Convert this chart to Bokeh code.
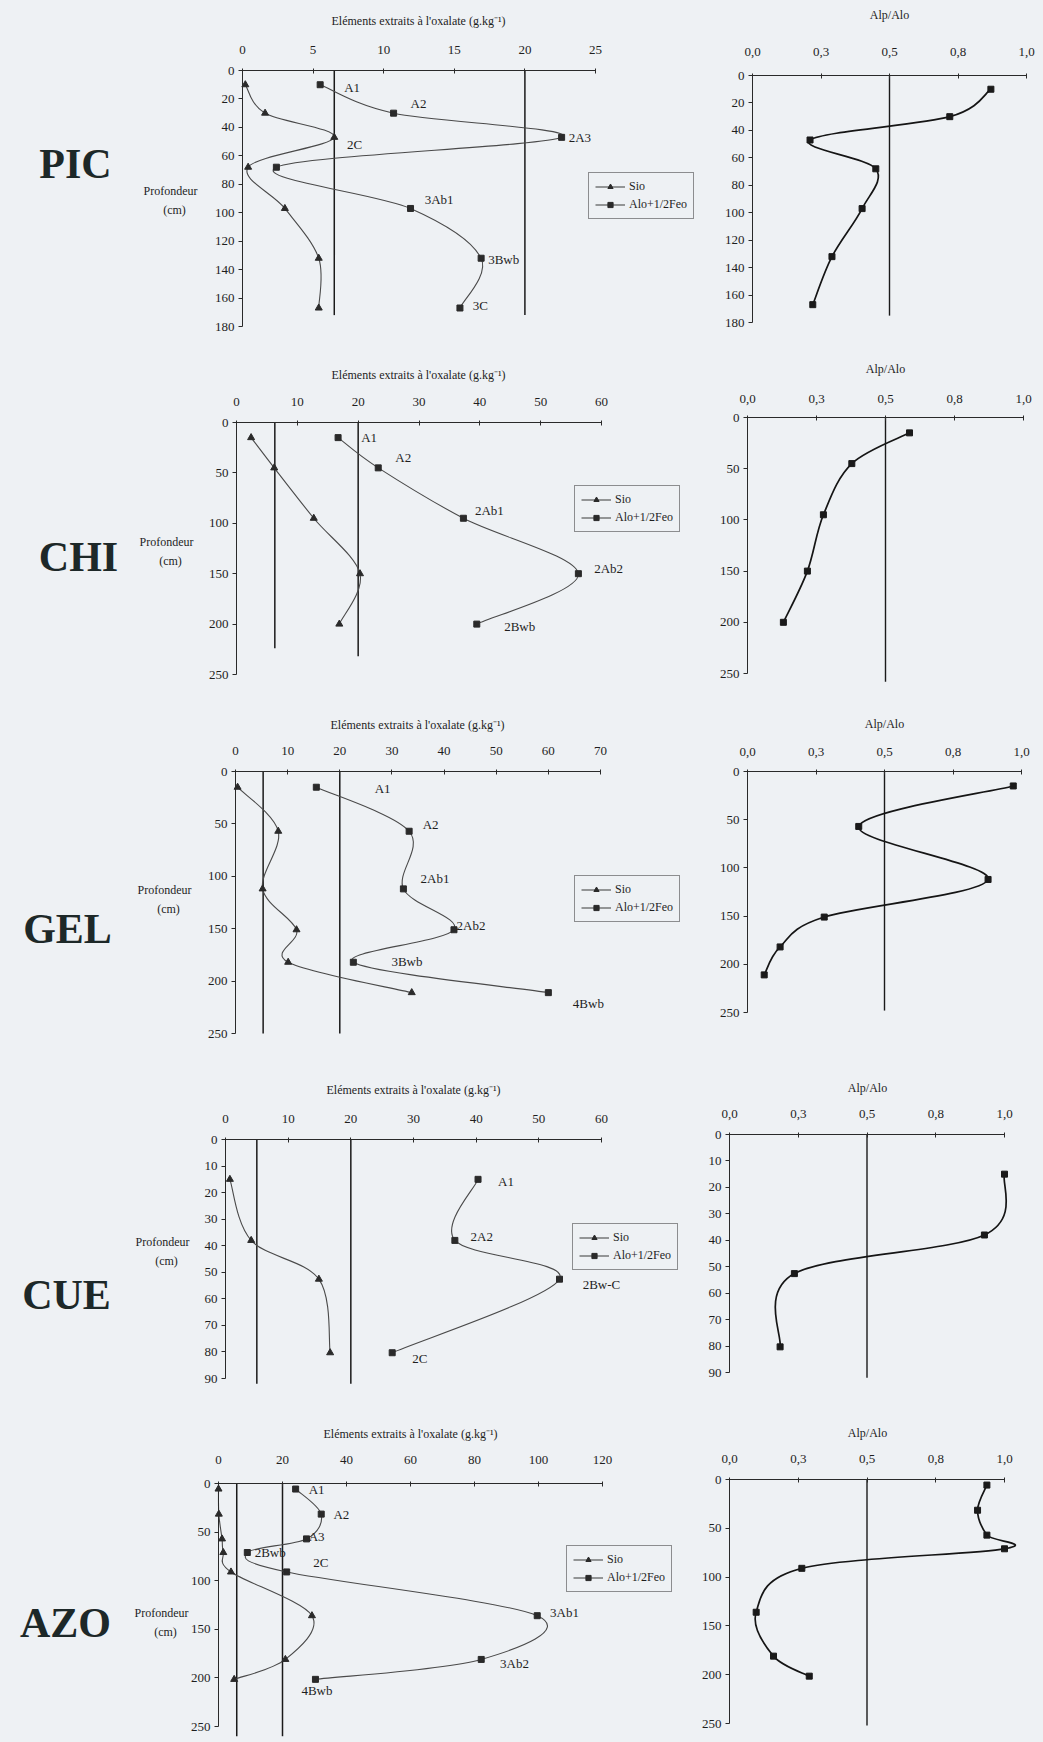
from bokeh.plotting import figure
from bokeh.models import (Range1d, FixedTicker, Label, LabelSet, ColumnDataSource,
                          Legend, LegendItem, LinearAxis, GlobalInlineStyleSheet)
from bokeh.embed import file_html
from bokeh.resources import INLINE
from bokeh.core.properties import value

BG = "#eef1f4"
FONT = "Liberation Serif"
TXT = "#1e1e1e"
X_TITLE = "Eléments extraits à l'oxalate (g.kg\u207b\u00b9)"
R_TITLE = "Alp/Alo"
RATIO_TICKS = [0, 0.25, 0.5, 0.75, 1.0]
RATIO_LABELS = ["0,0", "0,3", "0,5", "0,8", "1,0"]

# ---------------- data ----------------
# PIC
pic_depth = [10, 30, 47, 68, 97, 132, 167]
pic_sio = [0.2, 1.6, 6.5, 0.4, 3.0, 5.4, 5.4]
pic_alofe = [5.5, 10.7, 22.6, 2.4, 11.9, 16.9, 15.4]
pic_ratio = [0.87, 0.72, 0.21, 0.45, 0.40, 0.29, 0.22]
pic_hz = ["A1", "A2", "2A3", "2C", "3Ab1", "3Bwb", "3C"]
pic_hz_x = [7.2, 11.9, 23.1, 7.4, 12.9, 17.4, 16.3]
pic_hz_y = [12, 23, 47, 52, 91, 133, 165]
pic_thr = [6.5, 20]
pic_thr_end = [172, 172]
pic_ratio_end = 175

# CHI
chi_depth = [15, 45, 95, 150, 200]
chi_sio = [2.4, 6.2, 12.7, 20.3, 16.9]
chi_alofe = [16.7, 23.3, 37.3, 56.2, 39.5]
chi_ratio = [0.587, 0.378, 0.275, 0.217, 0.130]
chi_hz = ["A1", "A2", "2Ab1", "2Ab2", "2Bwb"]
chi_hz_x = [20.5, 26.1, 39.2, 58.8, 44.0]
chi_hz_y = [15, 35, 87, 145, 202]
chi_thr = [6.3, 20]
chi_thr_end = [224, 232]
chi_ratio_end = 258

# GEL
gel_depth = [15, 57, 112, 151, 182, 211]
gel_sio = [0.4, 8.2, 5.2, 11.7, 10.1, 33.8]
gel_alofe = [15.5, 33.3, 32.2, 41.9, 22.6, 60.0]
gel_ratio = [0.970, 0.406, 0.878, 0.280, 0.119, 0.061]
gel_hz = ["A1", "A2", "2Ab1", "2Ab2", "3Bwb", "4Bwb"]
gel_hz_x = [26.7, 35.9, 35.5, 42.4, 29.9, 64.7]
gel_hz_y = [16, 51, 102, 147, 181, 221]
gel_thr = [5.3, 20]
gel_thr_end = [250, 250]
gel_ratio_end = 248

# CUE
cue_depth = [15, 38, 52.6, 80.3]
cue_sio = [0.7, 4.1, 14.9, 16.7]
cue_alofe = [40.3, 36.6, 53.3, 26.6]
cue_ratio = [1.0, 0.927, 0.236, 0.184]
cue_hz = ["A1", "2A2", "2Bw-C", "2C"]
cue_hz_x = [43.5, 39.1, 57.0, 29.8]
cue_hz_y = [16, 36.6, 54.6, 82.4]
cue_thr = [5, 20]
cue_thr_end = [92, 92]
cue_ratio_end = 92

# AZO
azo_depth = [5.7, 31.5, 57, 71, 91, 136, 181, 201.5]
azo_sio = [0.0, 0.1, 1.1, 1.5, 3.9, 29.2, 20.9, 4.9]
azo_alofe = [24.1, 32.1, 27.5, 9.0, 21.3, 99.6, 82.1, 30.3]
azo_ratio = [0.936, 0.902, 0.936, 1.0, 0.263, 0.097, 0.16, 0.29]
azo_hz = ["A1", "A2", "A3", "2Bwb", "2C", "3Ab1", "3Ab2", "4Bwb"]
azo_hz_x = [28.2, 35.9, 28.2, 11.3, 29.6, 103.6, 88.0, 25.9]
azo_hz_y = [5.7, 31.8, 54.2, 71, 81.7, 133, 185.4, 213.2]
azo_thr = [5.7, 20]
azo_thr_end = [260, 260]
azo_ratio_end = 252

profiles = [
    dict(name="PIC", depth=pic_depth, sio=pic_sio, alofe=pic_alofe, ratio=pic_ratio,
         hz=pic_hz, hz_x=pic_hz_x, hz_y=pic_hz_y, thr=pic_thr, thr_end=pic_thr_end,
         ratio_end=pic_ratio_end, xmax=25, xticks=[0, 5, 10, 15, 20, 25],
         ymax=180, yticks=list(range(0, 181, 20))),
    dict(name="CHI", depth=chi_depth, sio=chi_sio, alofe=chi_alofe, ratio=chi_ratio,
         hz=chi_hz, hz_x=chi_hz_x, hz_y=chi_hz_y, thr=chi_thr, thr_end=chi_thr_end,
         ratio_end=chi_ratio_end, xmax=60, xticks=list(range(0, 61, 10)),
         ymax=250, yticks=list(range(0, 251, 50))),
    dict(name="GEL", depth=gel_depth, sio=gel_sio, alofe=gel_alofe, ratio=gel_ratio,
         hz=gel_hz, hz_x=gel_hz_x, hz_y=gel_hz_y, thr=gel_thr, thr_end=gel_thr_end,
         ratio_end=gel_ratio_end, xmax=70, xticks=list(range(0, 71, 10)),
         ymax=250, yticks=list(range(0, 251, 50))),
    dict(name="CUE", depth=cue_depth, sio=cue_sio, alofe=cue_alofe, ratio=cue_ratio,
         hz=cue_hz, hz_x=cue_hz_x, hz_y=cue_hz_y, thr=cue_thr, thr_end=cue_thr_end,
         ratio_end=cue_ratio_end, xmax=60, xticks=list(range(0, 61, 10)),
         ymax=90, yticks=list(range(0, 91, 10))),
    dict(name="AZO", depth=azo_depth, sio=azo_sio, alofe=azo_alofe, ratio=azo_ratio,
         hz=azo_hz, hz_x=azo_hz_x, hz_y=azo_hz_y, thr=azo_thr, thr_end=azo_thr_end,
         ratio_end=azo_ratio_end, xmax=120, xticks=list(range(0, 121, 20)),
         ymax=250, yticks=list(range(0, 251, 50))),
]

# ---------------- layout: page pixels (Bokeh's page template has no body margin) ----------------
X0, X1, Y0, Y1 = 0, 1042, 0, 1741       # canvas extent on the page
# frames (left, right, top, bottom) where the axes run; tk = tick-label centre above the axis;
# title = centre of the axis title; name/prof = centres of the side texts; leg = legend (left, bottom)
layout_rows = [
    dict(L=(242, 595, 70, 326), R=(752, 1026, 75, 322), Ltk=22, Rtk=25,
         Ltitle=(418, 20), Rtitle=(889, 14),
         name_c=(75, 163), prof_c=(170, 190), leg=(588, 219)),
    dict(L=(236, 601, 422, 674), R=(747, 1023, 417, 673), Ltk=22, Rtk=20,
         Ltitle=(418, 374), Rtitle=(885, 368),
         name_c=(78, 556), prof_c=(166, 541), leg=(574, 532)),
    dict(L=(235, 600, 771, 1033), R=(747, 1021, 771, 1012), Ltk=22, Rtk=21,
         Ltitle=(417, 724), Rtitle=(884, 723),
         name_c=(67, 928), prof_c=(164, 889), leg=(574, 922)),
    dict(L=(225, 601, 1139, 1378), R=(729, 1004, 1134, 1372), Ltk=22, Rtk=22,
         Ltitle=(413, 1089), Rtitle=(867, 1087),
         name_c=(66, 1294), prof_c=(162, 1241), leg=(572, 1270)),
    dict(L=(218, 602, 1483, 1726), R=(729, 1004, 1479, 1723), Ltk=25, Rtk=22,
         Ltitle=(410, 1433), Rtitle=(867, 1432),
         name_c=(65, 1622), prof_c=(161, 1612), leg=(566, 1592)),
]


def smooth(xs, ys):
    """Bezier control points of a Catmull-Rom (spreadsheet 'smoothed line') curve."""
    n = len(xs)
    out = {k: [] for k in ("x0", "y0", "x1", "y1", "cx0", "cy0", "cx1", "cy1")}
    for i in range(n - 1):
        a = i - 1 if i > 0 else i
        d = i + 2 if i + 2 < n else i + 1
        out["x0"].append(xs[i]); out["y0"].append(ys[i])
        out["x1"].append(xs[i + 1]); out["y1"].append(ys[i + 1])
        out["cx0"].append(xs[i] + (xs[i + 1] - xs[a]) / 6.0)
        out["cy0"].append(ys[i] + (ys[i + 1] - ys[a]) / 6.0)
        out["cx1"].append(xs[i + 1] - (xs[d] - xs[i]) / 6.0)
        out["cy1"].append(ys[i + 1] - (ys[d] - ys[i]) / 6.0)
    return ColumnDataSource(out)


p = figure(width=X1 - X0, height=Y1 - Y0, x_range=Range1d(X0, X1), y_range=Range1d(Y1, Y0),
           x_axis_type=None, y_axis_type=None, toolbar_location=None, output_backend="svg",
           min_border=0, title=None, background_fill_color=BG, border_fill_color=BG,
           outline_line_color=None)
p.stylesheets = [GlobalInlineStyleSheet(css="html, body { background-color: %s; }" % BG)]

xr, yr = {}, {}


def panel(key, frame, xmax, ymax, xticks, yticks, tk, x_overrides=None):
    """Register the ranges of one panel and draw its two axes (crossing at 0, 0)."""
    gl, gr, gt, gb = frame
    sx = (gr - gl) / xmax
    sy = (gb - gt) / ymax
    xr[key + "x"] = Range1d((X0 - gl) / sx, (X1 - gl) / sx)
    yr[key + "y"] = Range1d((Y1 - gt) / sy, (Y0 - gt) / sy)
    kw = dict(x_range_name=key + "x", y_range_name=key + "y", fixed_location=0,
              axis_line_color="#2a2a2a", axis_line_width=1, major_tick_line_color="#2a2a2a",
              minor_tick_line_color=None, major_label_text_font=FONT,
              major_label_text_font_size="13px", major_label_text_color=TXT)
    xa = LinearAxis(bounds=(0, xmax), ticker=FixedTicker(ticks=xticks),
                    major_tick_in=3, major_tick_out=2,
                    major_label_standoff=int(round(tk - 2 - 4.7)), **kw)
    if x_overrides:
        xa.major_label_overrides = x_overrides
    ya = LinearAxis(bounds=(0, ymax), ticker=FixedTicker(ticks=yticks),
                    major_tick_in=0, major_tick_out=4, major_label_standoff=4, **kw)
    p.add_layout(xa, "above")
    p.add_layout(ya, "left")
    return dict(x_range_name=key + "x", y_range_name=key + "y")


def text(x, y, t, size, bold=False, color=TXT):
    p.add_layout(Label(x=x, y=y, text=t, text_align="center", text_baseline="middle",
                       text_font=FONT, text_font_size=size,
                       text_font_style="bold" if bold else "normal", text_color=color))


def curve(rn, xs, ys, color, width):
    return p.bezier(x0="x0", y0="y0", x1="x1", y1="y1", cx0="cx0", cy0="cy0",
                    cx1="cx1", cy1="cy1", source=smooth(xs, ys),
                    line_color=color, line_width=width, **rn)


for i, (c, g) in enumerate(zip(profiles, layout_rows)):
    # ---- main panel: oxalate-extracted elements ----
    rn = panel("L%d" % i, g["L"], c["xmax"], c["ymax"], c["xticks"], c["yticks"], g["Ltk"])
    p.segment(x0=c["thr"], y0=[0] * len(c["thr"]), x1=c["thr"], y1=c["thr_end"],
              line_color="#1a1a1a", line_width=1.5, **rn)
    bs = curve(rn, c["sio"], c["depth"], "#4a4a4a", 1.1)
    ba = curve(rn, c["alofe"], c["depth"], "#4a4a4a", 1.1)
    ss = p.scatter(c["sio"], c["depth"], marker="triangle", size=7,
                   fill_color="#2a2a2a", line_color="#2a2a2a", **rn)
    sa = p.scatter(c["alofe"], c["depth"], marker="square", size=6,
                   fill_color="#2a2a2a", line_color="#2a2a2a", **rn)
    src = ColumnDataSource(dict(x=c["hz_x"], y=c["hz_y"], t=c["hz"]))
    p.add_layout(LabelSet(x="x", y="y", text="t", source=src, text_font=value(FONT),
                          text_font_size="13px", text_color=TXT,
                          text_align="left", text_baseline="middle", **rn))

    lgx, lgy = g["leg"]
    leg = Legend(items=[LegendItem(label="Sio", renderers=[bs, ss]),
                        LegendItem(label="Alo+1/2Feo", renderers=[ba, sa])],
                 location=(lgx - X0, Y1 - lgy),
                 border_line_color="#2a2a2a", border_line_width=1,
                 background_fill_color=BG, background_fill_alpha=1.0,
                 label_text_font=FONT, label_text_font_size="12px", label_text_color=TXT,
                 glyph_width=30, glyph_height=13, label_height=13, label_standoff=4,
                 spacing=3, padding=6, margin=0)
    p.add_layout(leg, "center")

    tx, ty = g["Ltitle"]
    text(tx, ty, X_TITLE, "12px")
    nx, ny = g["name_c"]
    text(nx, ny, c["name"], "42px", bold=True, color="#1d2828")
    px_, py_ = g["prof_c"]
    text(px_, py_, "Profondeur", "12px")
    text(px_ + 4, py_ + 19, "(cm)", "12px")

    # ---- right panel: Alp/Alo ----
    rq = panel("R%d" % i, g["R"], 1.0, c["ymax"], RATIO_TICKS, c["yticks"], g["Rtk"],
               x_overrides=dict(zip(RATIO_TICKS, RATIO_LABELS)))
    p.segment(x0=[0.5], y0=[0], x1=[0.5], y1=[c["ratio_end"]],
              line_color="#1a1a1a", line_width=1.4, **rq)
    curve(rq, c["ratio"], c["depth"], "#151515", 1.7)
    p.scatter(c["ratio"], c["depth"], marker="square", size=6,
              fill_color="#1a1a1a", line_color="#1a1a1a", **rq)
    rx, ry = g["Rtitle"]
    text(rx, ry, R_TITLE, "12px")

p.extra_x_ranges = xr
p.extra_y_ranges = yr

open("out.html", "w").write(file_html(p, INLINE))
